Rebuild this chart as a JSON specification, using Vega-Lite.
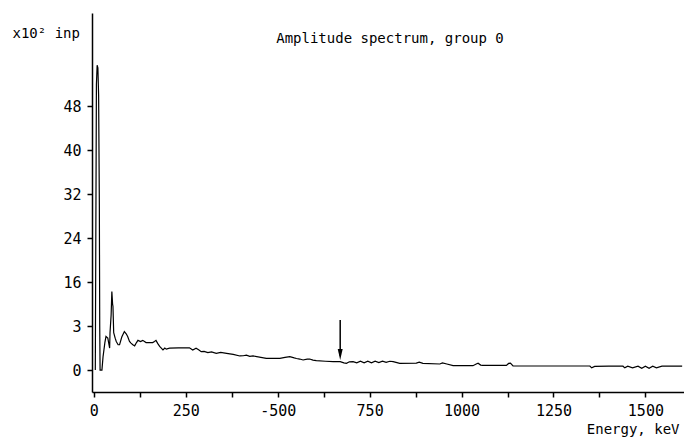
{
  "$schema": "https://vega.github.io/schema/vega-lite/v6.json",
  "width": 592,
  "height": 379,
  "autosize": "none",
  "padding": {"left": 92, "top": 13, "right": 0, "bottom": 48},
  "background": "white",
  "config": {
    "view": {"stroke": null},
    "font": "DejaVu Sans Mono",
    "axis": {
      "grid": false,
      "ticks": true,
      "domainColor": "black",
      "domainWidth": 1.5,
      "tickColor": "black",
      "tickWidth": 1.5,
      "labelColor": "black",
      "titleColor": "black",
      "labelFont": "DejaVu Sans Mono",
      "titleFont": "DejaVu Sans Mono",
      "labelFontSize": 15,
      "titleFontSize": 14,
      "titleFontWeight": "normal"
    }
  },
  "title": {
    "text": "Amplitude spectrum, group 0",
    "anchor": "middle",
    "offset": -33,
    "fontSize": 14,
    "fontWeight": "normal",
    "font": "DejaVu Sans Mono",
    "color": "black",
    "dx": 2
  },
  "datasets": {
    "spectrum": [
      {"E": 4, "v": 0}, {"E": 7, "v": 52}, {"E": 9, "v": 55.5}, {"E": 11, "v": 55}, {"E": 13, "v": 50},
      {"E": 15, "v": 30}, {"E": 16, "v": 8}, {"E": 17, "v": 0}, {"E": 22, "v": 0}, {"E": 25, "v": 2.4},
      {"E": 30, "v": 5}, {"E": 33, "v": 6.1}, {"E": 38, "v": 5.8}, {"E": 43, "v": 4}, {"E": 44, "v": 6.8},
      {"E": 47, "v": 10}, {"E": 49, "v": 14.3}, {"E": 51, "v": 12}, {"E": 52, "v": 11.6}, {"E": 54, "v": 6.8},
      {"E": 58, "v": 5.8}, {"E": 61, "v": 5.2}, {"E": 66, "v": 4.6}, {"E": 70, "v": 4.6}, {"E": 76, "v": 6},
      {"E": 83, "v": 7.0}, {"E": 88, "v": 6.6}, {"E": 92, "v": 6.1}, {"E": 97, "v": 5.2}, {"E": 101, "v": 4.9},
      {"E": 106, "v": 4.6}, {"E": 111, "v": 4.4}, {"E": 116, "v": 5.0}, {"E": 120, "v": 5.4}, {"E": 127, "v": 5.2},
      {"E": 133, "v": 5.4}, {"E": 142, "v": 5.0}, {"E": 151, "v": 5.0}, {"E": 160, "v": 5.0}, {"E": 165, "v": 5.2},
      {"E": 169, "v": 5.4}, {"E": 174, "v": 4.8}, {"E": 179, "v": 4.3}, {"E": 188, "v": 3.65}, {"E": 193, "v": 4.0},
      {"E": 197, "v": 3.8}, {"E": 206, "v": 4.0}, {"E": 230, "v": 4.05}, {"E": 260, "v": 4.05}, {"E": 269, "v": 3.65},
      {"E": 278, "v": 3.96}, {"E": 285, "v": 3.7}, {"E": 292, "v": 3.35}, {"E": 300, "v": 3.4}, {"E": 310, "v": 3.17},
      {"E": 320, "v": 3.3}, {"E": 333, "v": 3.04}, {"E": 345, "v": 3.2}, {"E": 361, "v": 3.04}, {"E": 379, "v": 2.86},
      {"E": 397, "v": 2.56}, {"E": 406, "v": 2.6}, {"E": 415, "v": 2.7}, {"E": 424, "v": 2.5}, {"E": 433, "v": 2.56},
      {"E": 469, "v": 2.13}, {"E": 506, "v": 2.13}, {"E": 520, "v": 2.3}, {"E": 533, "v": 2.43}, {"E": 545, "v": 2.2},
      {"E": 551, "v": 2.1}, {"E": 560, "v": 2.0}, {"E": 569, "v": 1.83}, {"E": 580, "v": 2.0}, {"E": 587, "v": 2.0},
      {"E": 596, "v": 1.8}, {"E": 605, "v": 1.7}, {"E": 630, "v": 1.6}, {"E": 651, "v": 1.52}, {"E": 670, "v": 1.52},
      {"E": 680, "v": 1.3}, {"E": 687, "v": 1.22}, {"E": 695, "v": 1.5}, {"E": 705, "v": 1.52}, {"E": 715, "v": 1.3},
      {"E": 725, "v": 1.6}, {"E": 735, "v": 1.3}, {"E": 745, "v": 1.6}, {"E": 755, "v": 1.3}, {"E": 765, "v": 1.6},
      {"E": 775, "v": 1.35}, {"E": 785, "v": 1.6}, {"E": 795, "v": 1.4}, {"E": 805, "v": 1.6}, {"E": 814, "v": 1.52},
      {"E": 832, "v": 1.22}, {"E": 877, "v": 1.27}, {"E": 885, "v": 1.45}, {"E": 895, "v": 1.22}, {"E": 941, "v": 1.1},
      {"E": 948, "v": 1.3}, {"E": 960, "v": 1.1}, {"E": 977, "v": 0.79}, {"E": 1031, "v": 0.79}, {"E": 1040, "v": 1.1},
      {"E": 1045, "v": 1.25}, {"E": 1052, "v": 0.9}, {"E": 1058, "v": 0.85}, {"E": 1122, "v": 0.85}, {"E": 1128, "v": 1.2},
      {"E": 1133, "v": 1.25}, {"E": 1140, "v": 0.73}, {"E": 1200, "v": 0.73}, {"E": 1349, "v": 0.73}, {"E": 1354, "v": 0.4},
      {"E": 1362, "v": 0.65}, {"E": 1400, "v": 0.7}, {"E": 1439, "v": 0.7}, {"E": 1444, "v": 0.4}, {"E": 1452, "v": 0.7},
      {"E": 1465, "v": 0.4}, {"E": 1480, "v": 0.7}, {"E": 1490, "v": 0.3}, {"E": 1500, "v": 0.7}, {"E": 1510, "v": 0.3},
      {"E": 1520, "v": 0.7}, {"E": 1530, "v": 0.4}, {"E": 1545, "v": 0.7}, {"E": 1600, "v": 0.7}
    ],
    "arrow": [
      {"E": 670, "top": 9.1, "tip": 2.6, "head": 2.83}
    ]
  },
  "layer": [
    {
      "data": {"name": "spectrum"},
      "mark": {"type": "line", "color": "black", "strokeWidth": 1.2, "clip": true},
      "encoding": {
        "x": {
          "field": "E", "type": "quantitative",
          "scale": {"domain": [-5, 1605], "nice": false, "zero": false},
          "axis": {
            "title": "Energy, keV",
            "titleAnchor": "end",
            "titleAlign": "right",
            "titleX": 587,
            "titleY": 41,
            "titleBaseline": "alphabetic",
            "values": [0, 125, 250, 375, 500, 625, 750, 875, 1000, 1125, 1250, 1375, 1500],
            "labelExpr": "datum.value % 250 == 0 ? (datum.value == 500 ? '-500' : datum.label) : ''",
            "format": "d",
            "tickSize": 5,
            "labelPadding": 6,
            "labelFlush": false,
            "labelOverlap": false
          }
        },
        "y": {
          "field": "v", "type": "quantitative",
          "scale": {"domain": [-4, 65], "nice": false, "zero": false},
          "axis": {
            "title": "x10² inp",
            "titleAngle": 0,
            "titleAlign": "left",
            "titleBaseline": "alphabetic",
            "titleX": -80,
            "titleY": 24,
            "values": [0, 8, 16, 24, 32, 40, 48],
            "labelExpr": "datum.value == 8 ? '3' : datum.label",
            "tickSize": 5,
            "labelPadding": 6
          }
        }
      }
    },
    {
      "data": {"name": "arrow"},
      "mark": {"type": "rule", "color": "black", "strokeWidth": 1.5},
      "encoding": {
        "x": {"field": "E", "type": "quantitative"},
        "y": {"field": "top", "type": "quantitative"},
        "y2": {"field": "tip"}
      }
    },
    {
      "data": {"name": "arrow"},
      "mark": {"type": "point", "shape": "M-0.45,-1L0.45,-1L0,1Z", "filled": true, "color": "black", "size": 121, "opacity": 1},
      "encoding": {
        "x": {"field": "E", "type": "quantitative"},
        "y": {"field": "head", "type": "quantitative"}
      }
    }
  ]
}
